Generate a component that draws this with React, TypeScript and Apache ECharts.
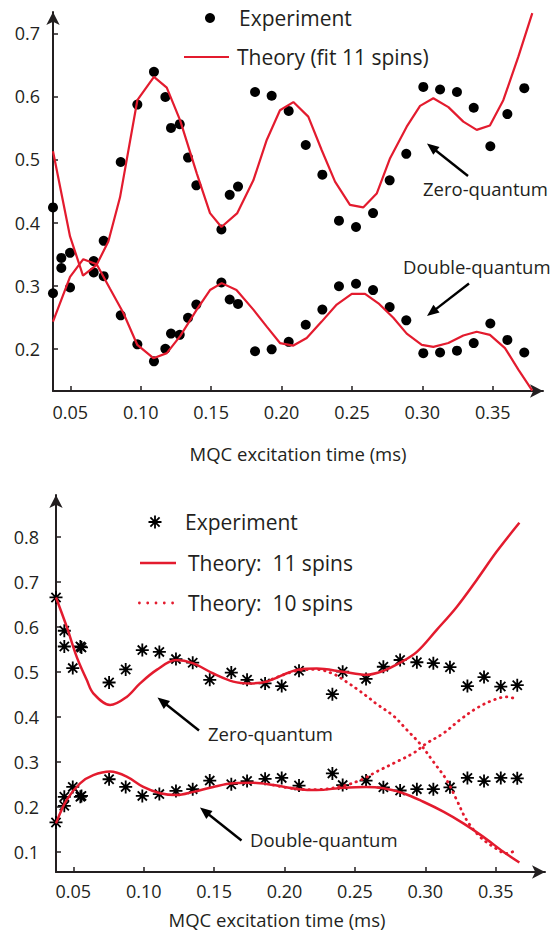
import React, { useEffect, useRef } from "react";
import * as echarts from "echarts";

// ---------- DATA ----------
const xTicks = [0.05, 0.1, 0.15, 0.2, 0.25, 0.3, 0.35];
const yTicksTop = [0.2, 0.3, 0.4, 0.5, 0.6, 0.7];
const yTicksBottom = [0.1, 0.2, 0.3, 0.4, 0.5, 0.6, 0.7, 0.8];

// Top panel: experiment (filled dots)
const topExpZeroQ = [
  [0.0377, 0.424], [0.0436, 0.344], [0.0498, 0.352], [0.0666, 0.339], [0.0737, 0.371],
  [0.0858, 0.496], [0.0976, 0.587], [0.1094, 0.639], [0.1175, 0.599], [0.1215, 0.55],
  [0.1277, 0.556], [0.1336, 0.503], [0.1395, 0.459], [0.1573, 0.389], [0.1632, 0.444],
  [0.1691, 0.457], [0.1812, 0.607], [0.193, 0.601], [0.2051, 0.577], [0.2172, 0.523],
  [0.229, 0.476], [0.2408, 0.403], [0.2529, 0.393], [0.265, 0.415], [0.2768, 0.467],
  [0.2886, 0.509], [0.3007, 0.615], [0.3126, 0.611], [0.3246, 0.607], [0.3365, 0.582],
  [0.3483, 0.521], [0.3604, 0.572], [0.3724, 0.613],
];
const topExpDoubleQ = [
  [0.0377, 0.288], [0.0436, 0.328], [0.0498, 0.297], [0.0666, 0.321], [0.0737, 0.315],
  [0.0858, 0.253], [0.0976, 0.207], [0.1094, 0.18], [0.1175, 0.2], [0.1215, 0.224],
  [0.1277, 0.222], [0.1336, 0.249], [0.1395, 0.27], [0.1573, 0.305], [0.1632, 0.278],
  [0.1691, 0.271], [0.1812, 0.196], [0.193, 0.199], [0.2051, 0.211], [0.2172, 0.238],
  [0.229, 0.262], [0.2408, 0.299], [0.2529, 0.303], [0.265, 0.293], [0.2768, 0.266],
  [0.2886, 0.245], [0.3007, 0.193], [0.3126, 0.194], [0.3246, 0.197], [0.3365, 0.209],
  [0.3483, 0.24], [0.3604, 0.214], [0.3724, 0.194],
];
// Top panel: theory (fit 11 spins)
const topTheoryZeroQ = [
  [0.0377, 0.513], [0.0498, 0.378], [0.059, 0.316], [0.0687, 0.333], [0.077, 0.37],
  [0.0853, 0.44], [0.0976, 0.594], [0.1094, 0.631], [0.1185, 0.614], [0.128, 0.562],
  [0.1398, 0.478], [0.1492, 0.415], [0.1573, 0.393], [0.1686, 0.415], [0.18, 0.467],
  [0.1895, 0.531], [0.1989, 0.578], [0.2084, 0.591], [0.219, 0.568], [0.2285, 0.515],
  [0.238, 0.465], [0.2486, 0.428], [0.258, 0.424], [0.2676, 0.446], [0.2771, 0.502],
  [0.2889, 0.552], [0.2984, 0.585], [0.3078, 0.597], [0.3185, 0.583], [0.3291, 0.56],
  [0.3386, 0.547], [0.348, 0.554], [0.3575, 0.594], [0.3682, 0.663], [0.3781, 0.732],
];
const topTheoryDoubleQ = [
  [0.0377, 0.243], [0.0498, 0.314], [0.0592, 0.342], [0.0687, 0.334], [0.0782, 0.295],
  [0.0876, 0.257], [0.0976, 0.206], [0.109, 0.185], [0.1185, 0.193], [0.128, 0.22],
  [0.1398, 0.262], [0.1492, 0.293], [0.1575, 0.304], [0.168, 0.293], [0.18, 0.262],
  [0.1895, 0.235], [0.1989, 0.209], [0.2084, 0.205], [0.2179, 0.217], [0.2285, 0.243],
  [0.2392, 0.27], [0.2499, 0.287], [0.2593, 0.287], [0.2688, 0.272], [0.2794, 0.249],
  [0.2889, 0.224], [0.2996, 0.206], [0.3078, 0.203], [0.3185, 0.209], [0.3291, 0.221],
  [0.3386, 0.227], [0.348, 0.222], [0.3587, 0.201], [0.3682, 0.167], [0.3781, 0.1335],
];

// Bottom panel: experiment (asterisks)
const botExpZeroQ = [
  [0.0377, 0.665], [0.0436, 0.591], [0.0436, 0.556], [0.0496, 0.508], [0.055, 0.556],
  [0.0558, 0.554], [0.0754, 0.476], [0.0872, 0.505], [0.099, 0.548], [0.1111, 0.544],
  [0.1229, 0.528], [0.1348, 0.52], [0.1469, 0.482], [0.1622, 0.498], [0.1734, 0.482],
  [0.1862, 0.474], [0.198, 0.468], [0.2103, 0.502], [0.234, 0.45], [0.2413, 0.5],
  [0.2579, 0.484], [0.2702, 0.511], [0.2821, 0.526], [0.294, 0.521], [0.3057, 0.519],
  [0.3175, 0.51], [0.3299, 0.468], [0.3417, 0.488], [0.3536, 0.467], [0.3653, 0.47],
];
const botExpDoubleQ = [
  [0.0377, 0.165], [0.0436, 0.202], [0.0436, 0.222], [0.0496, 0.244], [0.055, 0.222],
  [0.0558, 0.224], [0.0754, 0.261], [0.0872, 0.244], [0.099, 0.224], [0.1111, 0.228],
  [0.1229, 0.235], [0.1348, 0.239], [0.1469, 0.258], [0.1622, 0.25], [0.1734, 0.257],
  [0.1862, 0.262], [0.198, 0.264], [0.2103, 0.247], [0.234, 0.274], [0.2413, 0.248],
  [0.2579, 0.258], [0.2702, 0.243], [0.2821, 0.236], [0.294, 0.239], [0.3057, 0.239],
  [0.3175, 0.243], [0.3299, 0.264], [0.3417, 0.257], [0.3536, 0.264], [0.3653, 0.263],
];
// Bottom panel: theory 11 spins (solid)
const bot11ZeroQ = [
  [0.0377, 0.665], [0.0453, 0.6], [0.0524, 0.533], [0.0595, 0.482], [0.0642, 0.452],
  [0.0761, 0.426], [0.0879, 0.444], [0.0974, 0.474], [0.1092, 0.504], [0.1229, 0.526],
  [0.1348, 0.519], [0.1494, 0.496], [0.1636, 0.478], [0.1755, 0.474], [0.1873, 0.478],
  [0.2103, 0.505], [0.2229, 0.507], [0.2413, 0.5], [0.2579, 0.493], [0.2702, 0.502],
  [0.2821, 0.52], [0.294, 0.544], [0.3081, 0.593], [0.3223, 0.644], [0.3365, 0.704],
  [0.3507, 0.767], [0.3668, 0.831],
];
const bot11DoubleQ = [
  [0.0377, 0.163], [0.0453, 0.215], [0.0548, 0.252], [0.0642, 0.27], [0.0761, 0.278],
  [0.0879, 0.267], [0.0997, 0.244], [0.1116, 0.23], [0.1234, 0.226], [0.1352, 0.233],
  [0.1494, 0.244], [0.1636, 0.252], [0.1778, 0.253], [0.192, 0.248], [0.2103, 0.239],
  [0.2229, 0.237], [0.2413, 0.242], [0.2579, 0.244], [0.2702, 0.241], [0.2844, 0.23],
  [0.2986, 0.211], [0.3128, 0.189], [0.327, 0.163], [0.3412, 0.133], [0.3554, 0.1],
  [0.3668, 0.076],
];
// Bottom panel: theory 10 spins (dotted)
const bot10ZeroQ = [
  [0.1873, 0.478], [0.2103, 0.503], [0.2229, 0.505], [0.2347, 0.495], [0.2442, 0.477],
  [0.253, 0.458], [0.2607, 0.44], [0.2655, 0.428], [0.2773, 0.402], [0.2868, 0.371],
  [0.2962, 0.34], [0.3057, 0.3], [0.3152, 0.259], [0.3223, 0.215], [0.3294, 0.17],
  [0.3389, 0.133], [0.3483, 0.111], [0.3578, 0.096], [0.3653, 0.105],
];
const bot10DoubleQ = [
  [0.192, 0.248], [0.2103, 0.239], [0.2229, 0.238], [0.2413, 0.246], [0.2554, 0.261],
  [0.2655, 0.278], [0.2797, 0.3], [0.2915, 0.319], [0.301, 0.341], [0.3128, 0.363],
  [0.3246, 0.393], [0.3365, 0.419], [0.3483, 0.437], [0.3578, 0.444], [0.3649, 0.439],
];

// ---------- STYLE ----------
const FONT = '"Open Sans", "Noto Sans", sans-serif';
const RED = "#e31b2e";
const INK = "#231f20";
const STAR =
  "path://M-1,-0.14L1,-0.14L1,0.14L-1,0.14Z" +
  "M-0.14,-1L0.14,-1L0.14,1L-0.14,1Z" +
  "M-0.608,-0.806L0.806,0.608L0.608,0.806L-0.806,-0.608Z" +
  "M-0.806,0.608L0.608,-0.806L0.806,-0.608L-0.608,0.806Z";

function lineIcon(w: number, h: number) {
  return `path://M0,0L${w},0L${w},${h}L0,${h}Z`;
}
function dotIcon(n: number, r: number, gap: number) {
  let d = "path://";
  for (let i = 0; i < n; i++) {
    const cx = r + i * gap;
    d += `M${cx - r},${r}A${r},${r},0,1,0,${cx + r},${r}A${r},${r},0,1,0,${cx - r},${r}Z`;
  }
  return d;
}

function makeX(gridIndex: number, min: number, max: number, labelMargin: number, nameGap: number, namePad: number[]) {
  return {
    type: "value",
    gridIndex,
    min,
    max,
    name: "MQC excitation time (ms)",
    nameLocation: "middle",
    nameGap,
    nameTextStyle: { fontFamily: FONT, fontSize: 18.5, color: INK, lineHeight: 22, padding: namePad },
    axisLine: {
      onZero: false,
      lineStyle: { color: INK, width: 2 },
      symbol: ["none", "arrow"],
      symbolSize: [10, 13],
    },
    axisTick: { inside: true, length: 5, lineStyle: { color: INK, width: 1.5 }, customValues: xTicks },
    axisLabel: {
      customValues: xTicks,
      formatter: (v: number) => v.toFixed(2),
      margin: labelMargin,
      fontFamily: FONT,
      fontSize: 18,
      lineHeight: 20,
      color: INK,
    },
    splitLine: { show: false },
  };
}

function makeY(gridIndex: number, min: number, max: number, ticks: number[], labelMargin: number) {
  return {
    type: "value",
    gridIndex,
    min,
    max,
    axisLine: {
      show: true,
      onZero: false,
      lineStyle: { color: INK, width: 2 },
      symbol: ["none", "arrow"],
      symbolSize: [10, 13],
    },
    axisTick: { show: true, inside: true, length: 5, lineStyle: { color: INK, width: 1.5 }, customValues: ticks },
    axisLabel: {
      customValues: ticks,
      formatter: (v: number) => v.toFixed(1),
      margin: labelMargin,
      fontFamily: FONT,
      fontSize: 18,
      color: INK,
    },
    splitLine: { show: false },
  };
}

function arrow(x1: number, y1: number, x2: number, y2: number) {
  const dx = x2 - x1;
  const dy = y2 - y1;
  const len = Math.hypot(dx, dy);
  const ux = dx / len;
  const uy = dy / len;
  const hl = 12;
  const hw = 5;
  const bx = x2 - ux * hl;
  const by = y2 - uy * hl;
  return [
    { type: "line", shape: { x1, y1, x2: bx + ux * 2, y2: by + uy * 2 }, style: { stroke: "#000", lineWidth: 2.4 } },
    {
      type: "polygon",
      shape: { points: [[x2, y2], [bx - uy * hw, by + ux * hw], [bx + uy * hw, by - ux * hw]] },
      style: { fill: "#000" },
    },
  ];
}

function label(text: string, x: number, y: number) {
  return {
    type: "text",
    x,
    y,
    style: { text, fontFamily: FONT, fontSize: 18.5, fill: INK, verticalAlign: "middle", align: "left" },
  };
}

const legendText = { fontFamily: FONT, fontSize: 21, color: INK, lineHeight: 24 };

export default function App() {
  const ref = useRef<HTMLDivElement>(null);
  useEffect(() => {
    const chart = echarts.init(ref.current!, null, { renderer: "svg" });
    const option: any = {
      animation: false,
      backgroundColor: "#fff",
      grid: [
        { left: 53, top: 12, width: 490, height: 379 },
        { left: 56, top: 495, width: 489, height: 377 },
      ],
      xAxis: [makeX(0, 0.0377, 0.3857, 11, 51, [0, 0, 0, 0]), makeX(1, 0.0377, 0.385, 9, 36, [0, 47, 0, 0])],
      yAxis: [makeY(0, 0.133, 0.7338, yTicksTop, 13), makeY(1, 0.0549, 0.8927, yTicksBottom, 17)],
      legend: [
        {
          data: [{ name: "Experiment", icon: "circle" }],
          left: 205, top: 6, itemWidth: 48, itemHeight: 10, padding: 0, selectedMode: false, textStyle: legendText,
        },
        {
          data: [{ name: "Theory (fit 11 spins)", icon: lineIcon(45, 2.2) }],
          left: 184, top: 45, itemWidth: 45, itemHeight: 14, padding: 0, selectedMode: false,
          textStyle: { ...legendText, padding: [0, 0, 0, 3] },
        },
        {
          data: [{ name: "Experiment", icon: STAR }],
          left: 148.5, top: 510, itemWidth: 50, itemHeight: 13, padding: 0, selectedMode: false, textStyle: legendText,
        },
        {
          data: [{ name: "Theory:  11 spins", icon: lineIcon(36, 2.5) }],
          left: 140, top: 551, itemWidth: 36, itemHeight: 14, padding: 0, selectedMode: false,
          textStyle: { ...legendText, padding: [0, 0, 0, 7] },
        },
        {
          data: [{ name: "Theory:  10 spins", icon: dotIcon(5, 1.4, 8.3) }],
          left: 138, top: 591, itemWidth: 36, itemHeight: 14, padding: 0, selectedMode: false,
          textStyle: { ...legendText, padding: [0, 0, 0, 9] },
        },
      ],
      graphic: [
        label("Zero-quantum", 423, 188),
        ...arrow(468, 176, 427, 143.5),
        label("Double-quantum", 403, 266),
        ...arrow(469, 283.5, 427, 316),
        label("Zero-quantum", 208, 733),
        ...arrow(199, 730.5, 157.5, 697.5),
        label("Double-quantum", 250, 839),
        ...arrow(241.5, 840.5, 200, 807.5),
      ],
      series: [
        // top panel
        {
          name: "Theory (fit 11 spins)", type: "line", xAxisIndex: 0, yAxisIndex: 0, data: topTheoryZeroQ,
          symbol: "none", lineStyle: { color: RED, width: 2.2 }, itemStyle: { color: RED },
        },
        {
          name: "Theory (fit 11 spins)", type: "line", xAxisIndex: 0, yAxisIndex: 0, data: topTheoryDoubleQ,
          symbol: "none", lineStyle: { color: RED, width: 2.2 }, itemStyle: { color: RED },
        },
        {
          name: "Experiment", type: "scatter", xAxisIndex: 0, yAxisIndex: 0, data: topExpZeroQ,
          symbol: "circle", symbolSize: 10, itemStyle: { color: "#000", opacity: 1 },
        },
        {
          name: "Experiment", type: "scatter", xAxisIndex: 0, yAxisIndex: 0, data: topExpDoubleQ,
          symbol: "circle", symbolSize: 10, itemStyle: { color: "#000", opacity: 1 },
        },
        // bottom panel
        {
          name: "Theory:  10 spins", type: "line", xAxisIndex: 1, yAxisIndex: 1, data: bot10ZeroQ, smooth: 0.35,
          symbol: "none", lineStyle: { color: RED, width: 2.8, type: [0.5, 5.5], cap: "round" }, itemStyle: { color: RED },
        },
        {
          name: "Theory:  10 spins", type: "line", xAxisIndex: 1, yAxisIndex: 1, data: bot10DoubleQ, smooth: 0.35,
          symbol: "none", lineStyle: { color: RED, width: 2.8, type: [0.5, 5.5], cap: "round" }, itemStyle: { color: RED },
        },
        {
          name: "Theory:  11 spins", type: "line", xAxisIndex: 1, yAxisIndex: 1, data: bot11ZeroQ, smooth: 0.35,
          symbol: "none", lineStyle: { color: RED, width: 2.5 }, itemStyle: { color: RED },
        },
        {
          name: "Theory:  11 spins", type: "line", xAxisIndex: 1, yAxisIndex: 1, data: bot11DoubleQ, smooth: 0.35,
          symbol: "none", lineStyle: { color: RED, width: 2.5 }, itemStyle: { color: RED },
        },
        {
          name: "Experiment", type: "scatter", xAxisIndex: 1, yAxisIndex: 1, data: botExpZeroQ,
          symbol: STAR, symbolSize: 13, itemStyle: { color: "#000", opacity: 1 },
        },
        {
          name: "Experiment", type: "scatter", xAxisIndex: 1, yAxisIndex: 1, data: botExpDoubleQ,
          symbol: STAR, symbolSize: 13, itemStyle: { color: "#000", opacity: 1 },
        },
      ],
    };
    chart.setOption(option);
    return () => chart.dispose();
  }, []);
  return (
    <div
      ref={ref}
      style={{ position: "absolute", left: 0, top: 0, width: 554, height: 933, background: "#fff" }}
    />
  );
}
